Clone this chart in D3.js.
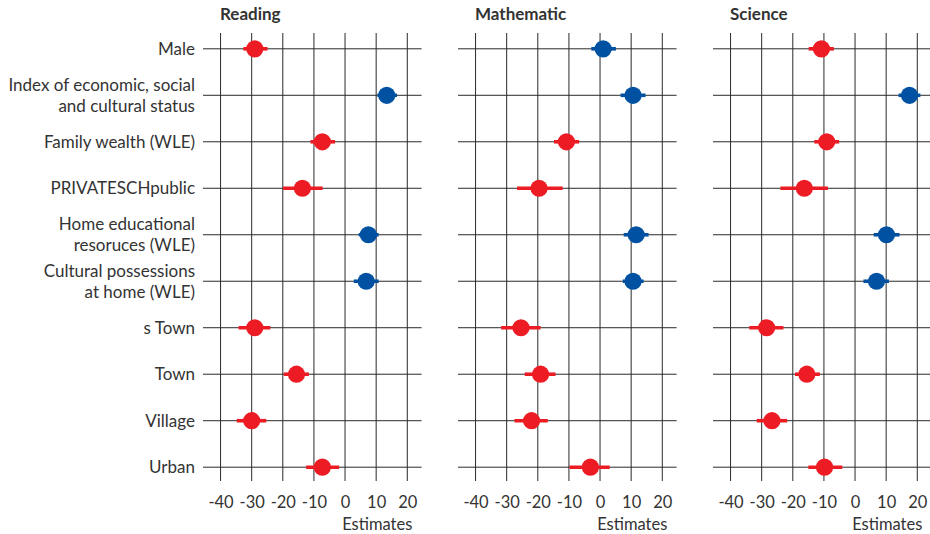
<!DOCTYPE html>
<html>
<head>
<meta charset="utf-8">
<script src="https://cdn.jsdelivr.net/npm/d3@7"></script>
<style>
  html, body { margin: 0; padding: 0; background: #fff; }
  svg { display: block; }
  text { font-family: Lato, "Open Sans", sans-serif; fill: #333; }
</style>
</head>
<body>
<svg id="chart" width="930" height="534"></svg>
<script>
// Predictors (rows), top to bottom; "\n" splits a label over two lines
const predictors = [
  "Male",
  "Index of economic, social\nand cultural status",
  "Family wealth (WLE)",
  "PRIVATESCHpublic",
  "Home educational\nresoruces (WLE)",
  "Cultural possessions\nat home (WLE)",
  "s Town",
  "Town",
  "Village",
  "Urban"
];

const domains = ["Reading", "Mathematic", "Science"];

// Point estimates and confidence bounds per domain
const readingEst = [-29.0, 13.4, -7.3, -13.7, 7.5, 6.8, -29.0, -15.6, -30.0, -7.3];
const readingLo  = [-32.7, 10.4, -11.1, -19.9, 4.4, 2.8, -34.2, -19.7, -34.8, -12.5];
const readingHi  = [-24.9, 16.7, -3.2, -7.2, 10.8, 10.8, -24.0, -11.6, -25.3, -1.9];

const mathEst = [1.0, 10.6, -10.8, -19.6, 11.6, 10.6, -25.4, -19.1, -22.0, -3.1];
const mathLo  = [-2.8, 6.6, -14.8, -26.7, 7.6, 7.3, -31.8, -24.2, -27.5, -9.8];
const mathHi  = [5.1, 14.6, -6.7, -12.0, 15.6, 14.0, -19.1, -14.3, -16.8, 3.1];

const scienceEst = [-10.8, 17.5, -9.1, -16.3, 10.1, 6.9, -28.4, -15.5, -26.7, -9.8];
const scienceLo  = [-14.9, 14.0, -13.1, -24.0, 6.0, 2.7, -34.0, -19.3, -31.6, -15.0];
const scienceHi  = [-6.8, 21.0, -5.1, -8.7, 14.3, 10.9, -23.0, -11.3, -21.8, -4.1];

const tickValues = [-40, -30, -20, -10, 0, 10, 20];
const tickLabels = ["-40", "-30", "-20", "-10", "0", "10", "20"];
const xAxisTitle = "Estimates";

const series = [
  { est: readingEst, lo: readingLo, hi: readingHi },
  { est: mathEst, lo: mathLo, hi: mathHi },
  { est: scienceEst, lo: scienceLo, hi: scienceHi }
];

const RED = "#ed1c24";
const BLUE = "#0051a2";
const GRID = "#2a2a2a";

const svg = d3.select("#chart");

const panelLefts = [205, 460, 715];
const panelWidth = 216.6;
const plotTop = 33, plotBottom = 481;

const y = d3.scalePoint()
  .domain(predictors)
  .range([plotTop, plotBottom + 2])
  .padding(0.34);

// Row labels on the left of the first panel
const labelG = svg.append("g").attr("class", "row-labels");
predictors.forEach(p => {
  const lines = p.split("\n");
  const lh = 21;
  const t = labelG.append("text")
    .attr("x", 195)
    .attr("y", y(p))
    .attr("text-anchor", "end")
    .style("font-size", "17px");
  lines.forEach((ln, i) => {
    t.append("tspan")
      .attr("x", 195)
      .attr("y", y(p) + (i - (lines.length - 1) / 2) * lh)
      .attr("dy", "0.36em")
      .text(ln);
  });
});

domains.forEach((name, k) => {
  const x0 = panelLefts[k];
  const x = d3.scaleLinear().domain([-45, 24.6]).range([x0, x0 + panelWidth]);
  const g = svg.append("g").attr("class", "panel");
  const s = series[k];

  // vertical grid lines
  g.selectAll("line.v").data(tickValues).join("line")
    .attr("class", "v")
    .attr("x1", d => x(d)).attr("x2", d => x(d))
    .attr("y1", plotTop).attr("y2", plotBottom)
    .attr("stroke", GRID).attr("stroke-width", 1);

  // horizontal grid lines, one per predictor
  g.selectAll("line.h").data(predictors).join("line")
    .attr("class", "h")
    .attr("x1", x0 - 2).attr("x2", x0 + panelWidth)
    .attr("y1", d => y(d)).attr("y2", d => y(d))
    .attr("stroke", GRID).attr("stroke-width", 1);

  const rows = predictors.map((p, i) => ({ p, est: s.est[i], lo: s.lo[i], hi: s.hi[i] }));
  const col = d => d.est >= 0 ? BLUE : RED;

  // confidence intervals
  g.selectAll("line.ci").data(rows).join("line")
    .attr("class", "ci")
    .attr("x1", d => x(d.lo)).attr("x2", d => x(d.hi))
    .attr("y1", d => y(d.p)).attr("y2", d => y(d.p))
    .attr("stroke", col).attr("stroke-width", 3.6);

  // point estimates
  g.selectAll("circle").data(rows).join("circle")
    .attr("cx", d => x(d.est)).attr("cy", d => y(d.p))
    .attr("r", 8.6)
    .attr("fill", col);

  // x axis labels
  const axis = d3.axisBottom(x)
    .tickValues(tickValues)
    .tickFormat((d, i) => tickLabels[i])
    .tickSize(0)
    .tickPadding(15);
  const ag = g.append("g").attr("transform", `translate(0,${plotBottom})`).call(axis);
  ag.select(".domain").remove();
  ag.selectAll("text").style("font-size", "16.5px").attr("fill", "#333")
    .style("font-family", "Lato, 'Open Sans', sans-serif");

  // axis title
  g.append("text")
    .attr("x", x(20) + 5)
    .attr("y", 530)
    .attr("text-anchor", "end")
    .style("font-size", "16.5px")
    .text(xAxisTitle);

  // panel title
  g.append("text")
    .attr("x", x0 + 15)
    .attr("y", 20)
    .style("font-size", "17px")
    .style("font-weight", "bold")
    .attr("fill", "#222")
    .text(name);
});
</script>
</body>
</html>
